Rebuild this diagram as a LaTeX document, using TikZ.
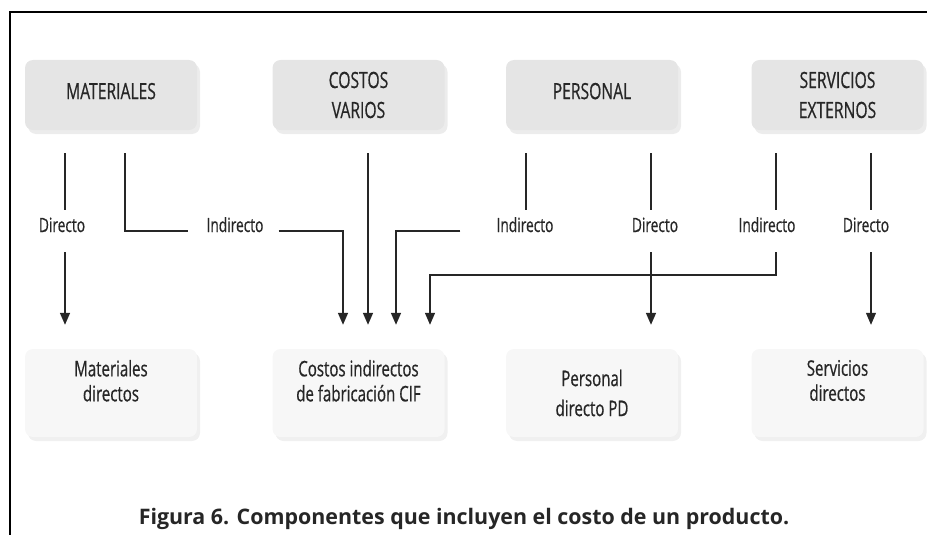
\documentclass[tikz,border=0pt]{standalone}
\usepackage{fontspec}
\setmainfont{Open Sans}
\newfontfamily\condfont[FakeStretch=0.7, FakeBold=0.6]{Open Sans}
\usetikzlibrary{positioning,arrows.meta,calc,shadows}
\definecolor{ccGray}{RGB}{38,38,38}
\definecolor{ccTop}{RGB}{229,229,229}
\definecolor{ccLow}{RGB}{247,247,247}
\tikzset{
    base/.style={text=ccGray, align=center},
    topbox/.style={base, rectangle, rounded corners=8pt, fill=ccTop,
                   minimum width=172pt, minimum height=70pt, inner sep=0pt,
                   font=\condfont\fontsize{22.4}{30}\selectfont,
                   drop shadow={opacity=0.15, shadow xshift=3pt, shadow yshift=-4pt}},
    lowbox/.style={base, rectangle, rounded corners=8pt, fill=ccLow,
                   minimum width=172pt, minimum height=88pt, inner sep=0pt,
                   drop shadow={opacity=0.12, shadow xshift=3pt, shadow yshift=-4pt}},
    lowtext/.style={base, inner sep=0pt, font=\condfont\fontsize{21.5}{25}\selectfont},
    way/.style={base, font=\condfont\fontsize{19.6}{22}\selectfont, anchor=base,
                text height=14pt, text depth=12pt, inner ysep=8pt, inner xsep=0pt},
    link/.style={draw=ccGray, line width=1.6pt},
    flow/.style={link, -{Triangle[length=12pt,width=10pt]}, shorten >=24pt}
}
\begin{document}
\begin{tikzpicture}[x=1pt, y=-1pt]
  \useasboundingbox (0,0) rectangle (927,535);
  % frame
  \draw[line width=1.3pt, black] (927,12) -- (10,12) -- (10,535);

  % cost sources
  \node[topbox, text depth=8pt] (mat) at (111,95) {MATERIALES};
  \node[topbox] (cv) at (358.5,95) {COSTOS\\VARIOS};
  \node[topbox, text depth=8pt] (per) at (592,95) {PERSONAL};
  \node[topbox] (se) at (837.5,95) {SERVICIOS\\EXTERNOS};

  % cost components
  \node[lowbox] (md) at (111,393) {};
  \node[lowbox] (cif) at (358.5,393) {};
  \node[lowbox] (pd) at (592,393) {};
  \node[lowbox] (sd) at (837.5,393) {};
  \node[lowtext, anchor=north] (mdText) at ([yshift=-11]md.north) {Materiales\\directos};
  \node[lowtext, anchor=north] (cifText) at ([yshift=-11]cif.north) {Costos indirectos\\de fabricación CIF};
  \node[lowtext, font=\condfont\fontsize{21.5}{30}\selectfont] (pdText) at (pd.center) {Personal\\directo PD};
  \node[lowtext, anchor=north] (sdText) at ([yshift=-11]sd.north) {Servicios\\directos};

  % start of each line
  \coordinate (tMD) at (65,153);
  \coordinate (tMI) at (125,153);
  \coordinate (tCV) at (368,153);
  \coordinate (tPI) at (526,153);
  \coordinate (tPD) at (651,153);
  \coordinate (tSI) at (776,153);
  \coordinate (tSD) at (871,153);
  \coordinate (jog) at (600,275);

  % labels
  \node[way] (lMD) at (62,232) {Directo};
  \node[way] (lMI) at (235,232) {Indirecto};
  \node[way] (lPI) at (525,232) {Indirecto};
  \node[way] (lPD) at (655,232) {Directo};
  \node[way] (lSI) at (767,232) {Indirecto};
  \node[way] (lSD) at (866,232) {Directo};

  % materiales
  \draw[link] (tMD) -- (tMD |- lMD.north);
  \draw[flow] (tMD |- lMD.south) -- (tMD |- md.north);
  \draw[link, shorten >=18pt] (tMI) |- (lMI.west);
  \draw[flow, shorten <=15pt] (lMI.east) -| ([xshift=-15.5]cif.north);
  % costos varios
  \draw[flow] (tCV) -- (tCV |- cif.north);
  % personal
  \draw[link] (tPI) -- (tPI |- lPI.north);
  \draw[flow, shorten <=36pt] (lPI.west) -| ([xshift=37.5]cif.north);
  \draw[link] (tPD) -- (tPD |- lPD.north);
  \draw[flow] (tPD |- lPD.south) -- (tPD |- pd.north);
  % servicios externos
  \draw[link] (tSI) -- (tSI |- lSI.north);
  \draw[flow, line width=1.3pt] (tSI |- lSI.south) |- (jog) -| ([xshift=71.5]cif.north);
  \draw[link, line width=1.1pt] (tSD) -- (tSD |- lSD.north);
  \draw[flow, line width=1.1pt] (tSD |- lSD.south) -- (tSD |- sd.north);

  % caption
  \node[text=black!85, font=\bfseries\fontsize{21.4}{24}\selectfont] (caption) at (464,519)
    {Figura 6. Componentes que incluyen el costo de un producto.};
\end{tikzpicture}
\end{document}
